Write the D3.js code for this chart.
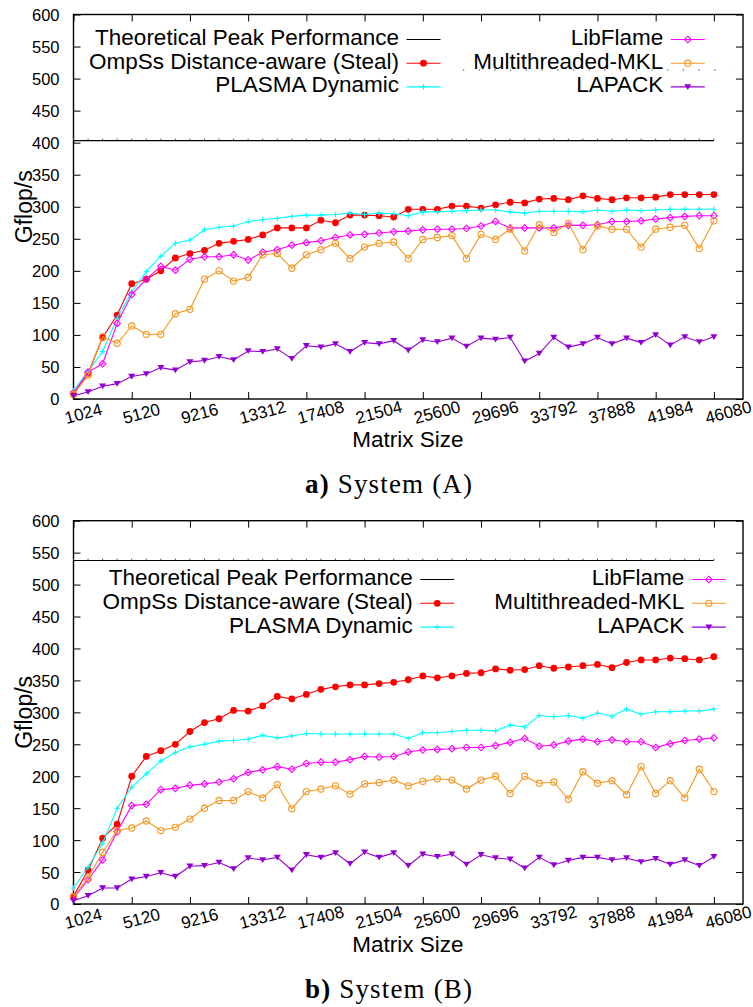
<!DOCTYPE html>
<html>
  <head>
    <script src="https://cdn.jsdelivr.net/npm/d3@7"></script>
    <style>
      body { margin: 0; background: #fff; }
      text { font-family: 'Liberation Sans', Arial, sans-serif; fill: #000; }
      .caption { font-family: 'Liberation Serif', 'Times New Roman', serif; }
    </style>
  </head>
  <body>
    <div id="chart"></div>

    <script>
      // ========= Data ========= //
      const sizes = [1024, 2048, 3072, 4096, 5120, 6144, 7168, 8192, 9216, 10240,
        11264, 12288, 13312, 14336, 15360, 16384, 17408, 18432, 19456, 20480,
        21504, 22528, 23552, 24576, 25600, 26624, 27648, 28672, 29696, 30720,
        31744, 32768, 33792, 34816, 35840, 36864, 37888, 38912, 39936, 40960,
        41984, 43008, 44032, 45056, 46080];
      const xTicks = [1024, 5120, 9216, 13312, 17408, 21504, 25600, 29696, 33792, 37888, 41984, 46080];
      const yTicks = [0, 50, 100, 150, 200, 250, 300, 350, 400, 450, 500, 550, 600];
      const seriesNames = ['Theoretical Peak Performance', 'OmpSs Distance-aware (Steal)', 'PLASMA Dynamic',
        'LibFlame', 'Multithreaded-MKL', 'LAPACK'];
      const captions = [['a)', ' System (A)'], ['b)', ' System (B)']];

      // System (A)
      const peakA = 403.2;
      const ompssA = [9, 40, 96, 131, 180, 187, 200, 220, 227, 232, 243, 246, 249, 256, 267, 267, 267, 279, 275, 287,
        287, 286, 284, 296, 296, 296, 301, 301, 298, 303, 307, 306, 312, 313, 311, 317, 313, 311, 314, 314,
        315, 319, 319, 319, 319];
      const plasmaA = [13, 43, 74, 126, 167, 199, 223, 243, 248, 264, 268, 270, 277, 280, 282, 285, 287, 287, 288, 290,
        288, 290, 289, 286, 292, 292, 293, 294, 295, 295, 292, 290, 293, 293, 293, 292, 295, 293, 295, 294,
        295, 296, 296, 296, 296];
      const libflameA = [9, 42, 55, 118, 163, 187, 207, 201, 218, 222, 222, 225, 217, 229, 233, 240, 244, 247, 252, 256,
        257, 259, 261, 262, 264, 265, 265, 266, 270, 277, 267, 267, 267, 267, 271, 271, 272, 277, 277, 278,
        281, 283, 285, 286, 286];
      const mklA = [7, 37, 97, 87, 114, 101, 101, 133, 140, 187, 200, 184, 190, 225, 227, 204, 225, 233, 243, 219,
        237, 243, 245, 219, 249, 252, 255, 219, 257, 249, 265, 231, 272, 260, 274, 233, 270, 265, 265, 237,
        265, 268, 271, 235, 278];
      const lapackA = [5, 11, 20, 24, 35, 39, 49, 45, 58, 60, 66, 61, 75, 74, 78, 63, 83, 81, 86, 74,
        88, 86, 91, 76, 92, 89, 95, 82, 95, 93, 96, 59, 71, 96, 81, 86, 96, 86, 95, 88,
        100, 84, 97, 89, 97];

      // System (B)
      const peakB = 537.6;
      const ompssB = [12, 53, 103, 125, 200, 231, 240, 250, 270, 284, 290, 303, 302, 310, 325, 321, 328, 336, 340, 343,
        343, 345, 347, 351, 357, 354, 357, 361, 362, 368, 366, 367, 373, 369, 371, 373, 375, 370, 378, 382,
        382, 385, 384, 382, 387];
      const plasmaB = [25, 58, 95, 150, 183, 204, 224, 237, 246, 250, 255, 256, 258, 264, 260, 263, 267, 266, 266, 266,
        266, 266, 266, 259, 268, 268, 270, 272, 272, 271, 280, 277, 295, 293, 295, 291, 299, 294, 305, 297,
        301, 301, 302, 302, 305];
      const libflameB = [9, 38, 69, 113, 154, 156, 179, 181, 186, 188, 191, 196, 206, 210, 215, 211, 220, 222, 222, 226,
        231, 230, 231, 238, 241, 242, 243, 245, 245, 248, 253, 259, 247, 249, 255, 258, 254, 257, 254, 254,
        245, 251, 256, 258, 260];
      const mklB = [11, 41, 81, 115, 119, 130, 115, 120, 133, 150, 162, 162, 176, 166, 187, 149, 176, 180, 185, 172,
        188, 190, 194, 185, 192, 196, 194, 180, 194, 200, 173, 200, 189, 191, 164, 207, 189, 193, 171, 215,
        173, 193, 166, 211, 176];
      const lapackB = [5, 13, 25, 25, 39, 43, 49, 43, 59, 60, 65, 55, 72, 69, 73, 53, 77, 73, 80, 63,
        81, 73, 80, 60, 78, 74, 78, 62, 77, 72, 70, 56, 73, 61, 68, 73, 73, 69, 72, 66,
        71, 62, 69, 60, 74];

      const colors = ['#000000', '#ff0000', '#00ffff', '#ff00ff', '#f7961e', '#9400d3'];
      const symbols = ['none', 'dot', 'plus', 'diamond', 'ring', 'tri'];

      // ========= Setup ========= //
      const W = 753, H = 1007;
      const svg = d3.select('#chart').append('svg')
        .attr('width', W)
        .attr('height', H);

      const panels = [
        { top: 14.5, bottom: 399, peak: peakA, series: [ompssA, plasmaA, libflameA, mklA, lapackA],
          rows: [39.5, 63.2, 86.9], leftEnd: 399, rightEnd: 663.3, dotted: true },
        { top: 520.7, bottom: 904, peak: peakB, series: [ompssB, plasmaB, libflameB, mklB, lapackB],
          rows: [579.5, 603.3, 627.1], leftEnd: 412.7, rightEnd: 684.3, dotted: false }
      ];

      function drawMarker(g, type, x, y, color) {
        if (type === 'dot') {
          g.append('circle').attr('cx', x).attr('cy', y).attr('r', 3.4).attr('fill', color);
        } else if (type === 'plus') {
          g.append('path').attr('d', `M${x - 2.7},${y}H${x + 2.7}M${x},${y - 2.7}V${y + 2.7}`)
            .attr('stroke', color).attr('stroke-width', 1.1);
        } else if (type === 'diamond') {
          g.append('path').attr('d', `M${x},${y - 3.3}L${x + 3.3},${y}L${x},${y + 3.3}L${x - 3.3},${y}Z`)
            .attr('fill', 'none').attr('stroke', color).attr('stroke-width', 1.1);
        } else if (type === 'ring') {
          g.append('circle').attr('cx', x).attr('cy', y).attr('r', 3.1)
            .attr('fill', 'none').attr('stroke', color).attr('stroke-width', 1.1);
        } else if (type === 'tri') {
          g.append('path').attr('d', `M${x - 3.5},${y - 2.7}H${x + 3.5}L${x},${y + 3.1}Z`).attr('fill', color);
        }
      }

      panels.forEach((p, pi) => {
        const x = d3.scaleLinear().domain([1024, 48128]).range([73.5, 743]);
        const y = d3.scaleLinear().domain([0, 600]).range([p.bottom, p.top]);
        const g = svg.append('g');

        // ---- axes (gnuplot style: inward ticks on all four sides) ----
        g.append('g')
          .attr('transform', `translate(0,${p.bottom})`)
          .call(d3.axisBottom(x).tickValues(xTicks).tickSize(-7).tickFormat(''))
          .call(a => a.select('.domain').remove());
        g.append('g')
          .attr('transform', `translate(0,${p.top})`)
          .call(d3.axisTop(x).tickValues(xTicks).tickSize(-7).tickFormat(''))
          .call(a => a.select('.domain').remove());
        g.append('g')
          .attr('transform', 'translate(73.5,0)')
          .call(d3.axisLeft(y).tickValues(yTicks).tickSize(-7).tickPadding(14))
          .call(a => a.select('.domain').remove())
          .call(a => a.selectAll('text').attr('font-size', 16.5).attr('font-family', null).attr('dy', '0.36em'));
        g.append('g')
          .attr('transform', 'translate(743,0)')
          .call(d3.axisRight(y).tickValues(yTicks).tickSize(-7).tickFormat(''))
          .call(a => a.select('.domain').remove());
        g.selectAll('.tick line').attr('stroke', '#000').attr('stroke-width', 1);

        // x tick labels, tilted
        g.selectAll('.xlab').data(xTicks).join('text')
          .attr('class', 'xlab')
          .attr('font-size', 17)
          .attr('transform', d => `translate(${x(d) - 7},${p.bottom + 25}) rotate(-15)`)
          .text(d => d);

        g.append('rect')
          .attr('x', 73.5).attr('y', p.top)
          .attr('width', 743 - 73.5).attr('height', p.bottom - p.top)
          .attr('fill', 'none').attr('stroke', '#000').attr('stroke-width', 1.4);

        // axis titles
        g.append('text')
          .attr('transform', `translate(32,${(p.top + p.bottom) / 2}) rotate(-90)`)
          .attr('text-anchor', 'middle')
          .attr('font-size', 23)
          .text('Gflop/s');
        g.append('text')
          .attr('x', 408).attr('y', p.bottom + 47.7)
          .attr('text-anchor', 'middle')
          .attr('font-size', 22.5)
          .text('Matrix Size');

        // ---- theoretical peak ----
        g.append('line')
          .attr('x1', x(sizes[0])).attr('x2', x(sizes[sizes.length - 1]))
          .attr('y1', y(p.peak)).attr('y2', y(p.peak))
          .attr('stroke', '#000').attr('stroke-width', 1.1);
        g.selectAll('.pk').data(sizes).join('rect')
          .attr('class', 'pk')
          .attr('x', d => x(d) - 0.5).attr('y', y(p.peak) - 2)
          .attr('width', 1).attr('height', 1.5)
          .attr('fill', '#555');

        // ---- series ----
        const line = d3.line().x((d, i) => x(sizes[i])).y(d => y(d));
        p.series.forEach((vals, si) => {
          const c = colors[si + 1];
          const sg = g.append('g');
          sg.append('path')
            .attr('d', line(vals))
            .attr('fill', 'none').attr('stroke', c).attr('stroke-width', 1.1);
          vals.forEach((v, i) => drawMarker(sg, symbols[si + 1], x(sizes[i]), y(v), c));
        });

        // ---- legend ----
        if (p.dotted) {
          g.append('line')
            .attr('x1', 463).attr('x2', 730).attr('y1', 70).attr('y2', 70)
            .attr('stroke', '#333').attr('stroke-width', 1.2)
            .attr('stroke-dasharray', '1.2,14.5');
        }
        seriesNames.forEach((name, k) => {
          const col = Math.floor(k / 3);
          const row = k % 3;
          const end = col === 0 ? p.leftEnd : p.rightEnd;
          const ry = p.rows[row];
          const lg = g.append('g');
          lg.append('text')
            .attr('x', end).attr('y', ry + 5.5)
            .attr('text-anchor', 'end')
            .attr('font-size', 22.5)
            .text(name);
          lg.append('line')
            .attr('x1', end + 7.5).attr('x2', end + 41.5)
            .attr('y1', ry).attr('y2', ry)
            .attr('stroke', colors[k]).attr('stroke-width', 1.1);
          drawMarker(lg, symbols[k], end + 24.5, ry, colors[k]);
        });

        // ---- caption ----
        const cap = svg.append('text')
          .attr('class', 'caption')
          .attr('x', 305).attr('y', p.bottom + 94)
          .attr('font-size', 27)
          .attr('textLength', 167)
          .attr('lengthAdjust', 'spacing');
        cap.append('tspan').attr('font-weight', 'bold').text(captions[pi][0]);
        cap.append('tspan').text(captions[pi][1]);
      });
    </script>
  </body>
</html>
